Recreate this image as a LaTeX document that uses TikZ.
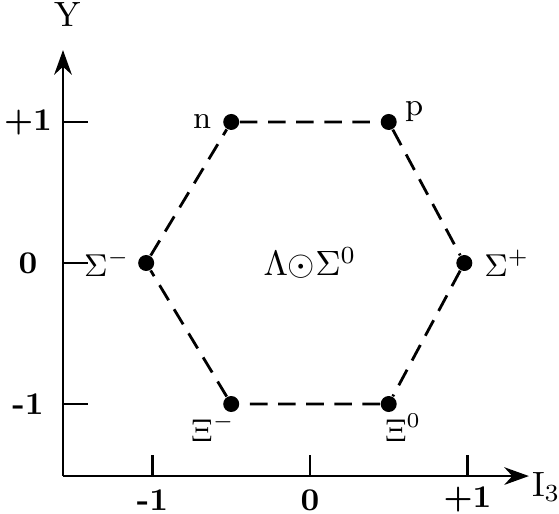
\documentclass[tikz,border=0pt]{standalone}
\usepackage{amsmath}
\usepackage{tikz}
\usetikzlibrary{arrows.meta, positioning}
\tikzset{
  particle/.style={circle, fill=black, inner sep=0pt, minimum size=0.16cm},
  link/.style={thick, dash pattern=on 5pt off 3pt},
  axis/.style={-{Stealth[length=7pt, width=5pt]}, thick},
  tickmark/.style={thick},
  ticklabel/.style={font=\small\bfseries},
  plabel/.style={font=\small, inner sep=1pt}
}

\begin{document}
\begin{tikzpicture}[x=1.575cm, y=1.41cm, font=\small]
  \useasboundingbox (-1.968,-1.780) rectangle (1.581,1.865);

  % axes
  \coordinate (origin) at (-1.568,-1.511);
  \coordinate (ytop) at (-1.568,1.51);
  \coordinate (xend) at (1.39,-1.511);
  \draw[axis] (origin) -- (ytop);
  \draw[axis] (origin) -- (xend);
  \node[font=\normalsize] (ylab) at (-1.537,1.76) {Y};
  \node[font=\normalsize] (xlab) at (1.50,-1.59) {$\mathrm{I}_3$};

  % ticks
  \foreach \y/\txt in {1/+1, 0/0, -1/-1} {
    \draw[tickmark] (-1.568,\y) -- (-1.41,\y);
    \node[ticklabel] at (-1.79,\y) {\txt};
  }
  \foreach \x/\txt in {-1/-1, 0/0, 1/+1} {
    \draw[tickmark] (\x,-1.511) -- (\x,-1.36);
    \node[ticklabel] at (\x,-1.68) {\txt};
  }

  % octet
  \node[particle] (n) at (-0.5,1) {};
  \node[particle] (p) at (0.5,1) {};
  \node[particle] (sm) at (-1.04,0) {};
  \node[particle] (sp) at (0.98,0) {};
  \node[particle] (xm) at (-0.5,-1) {};
  \node[particle] (x0) at (0.5,-1) {};

  \node[plabel, left=2pt of n] {n};
  \node[plabel, right=1pt of p, yshift=3pt] {p};
  \node[plabel, left=1pt of sm] {$\Sigma^-$};
  \node[plabel, right=2pt of sp] {$\Sigma^+$};
  \node[plabel, below left=0pt and -4pt of xm] {$\Xi^-$};
  \node[plabel, below right=0pt and -4pt of x0] {$\Xi^0$};

  \draw[link] (n) -- (p) -- (sp) -- (x0) -- (xm) -- (sm) -- (n);

  \node[font=\normalsize] (center) at (0,0) {$\Lambda{\odot}\Sigma^0$};
\end{tikzpicture}
\end{document}
